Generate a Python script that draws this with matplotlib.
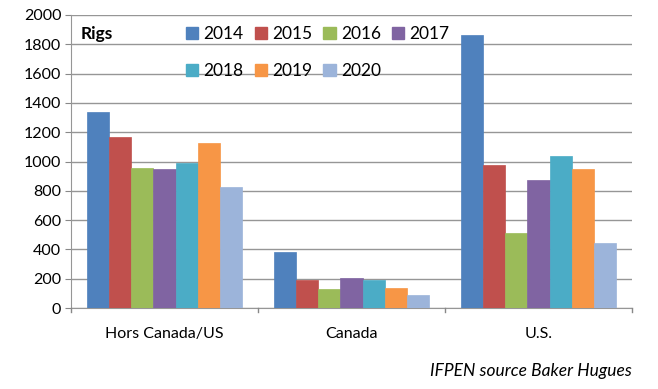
import numpy as np
import matplotlib.pyplot as plt
from matplotlib.patches import Patch

categories = ["Hors Canada/US", "Canada", "U.S."]
years = ["2014", "2015", "2016", "2017", "2018", "2019", "2020"]
rigs_2014 = [1338, 382, 1863]
rigs_2015 = [1167, 191, 976]
rigs_2016 = [955, 130, 512]
rigs_2017 = [948, 205, 874]
rigs_2018 = [990, 191, 1037]
rigs_2019 = [1126, 137, 949]
rigs_2020 = [826, 89, 444]
series = [rigs_2014, rigs_2015, rigs_2016, rigs_2017, rigs_2018, rigs_2019, rigs_2020]
colors = ["#4F81BD", "#C0504D", "#9BBB59", "#8064A2", "#4BACC6", "#F79646", "#9CB4DA"]

plt.rcParams['font.family'] = ['Lato', 'DejaVu Sans']

fig = plt.figure(figsize=(6.58, 3.89), dpi=100)
ax = fig.add_axes([71 / 658, 1 - 308 / 389, 561 / 658, 293 / 389])

x = np.arange(len(categories))
width = 0.118
for i, (vals, c) in enumerate(zip(series, colors)):
    ax.bar(x + (i - 3) * width, vals, width, color=c, edgecolor=c, linewidth=0.5, zorder=3)

ax.set_xlim(-0.5, 2.5)
ax.set_ylim(0, 2000)
ax.set_yticks(range(0, 2001, 200))
ax.tick_params(axis='y', labelsize=11.5, length=4, color='#888888', pad=3)
ax.set_xticks(x)
ax.set_xticklabels(categories, fontsize=11.5)
ax.tick_params(axis='x', length=0, pad=14)
# category separators below the axis
for sep in [-0.5, 0.5, 1.5, 2.5]:
    ax.plot([sep, sep], [0, -30], color='#888888', lw=1, clip_on=False, zorder=4)

ax.grid(axis='y', color='#969696', lw=1, zorder=0)
for s in ['top', 'right']:
    ax.spines[s].set_visible(False)
ax.spines['left'].set_color('#969696')
ax.spines['bottom'].set_color('#969696')

ax.text(0.018, 0.935, "Rigs", transform=ax.transAxes, fontsize=12.5, fontweight='bold',
        va='center', ha='left')
# legend fills columns first, so reorder to read row by row
order = [0, 4, 1, 5, 2, 6, 3]
handles = [Patch(facecolor=colors[k], edgecolor=colors[k]) for k in order]
labels = [years[k] for k in order]
ax.legend(handles, labels, ncol=4, frameon=False, fontsize=12.5,
          loc='upper left', bbox_to_anchor=(0.177, 1.015),
          handlelength=0.7, handleheight=0.7, handletextpad=0.3,
          columnspacing=0.65, labelspacing=1.2)

fig.text(632 / 658, 1 - 371 / 389, "IFPEN source Baker Hugues", fontsize=12.5,
         style='italic', ha='right', va='center')

fig.savefig("out.png", dpi=100)
